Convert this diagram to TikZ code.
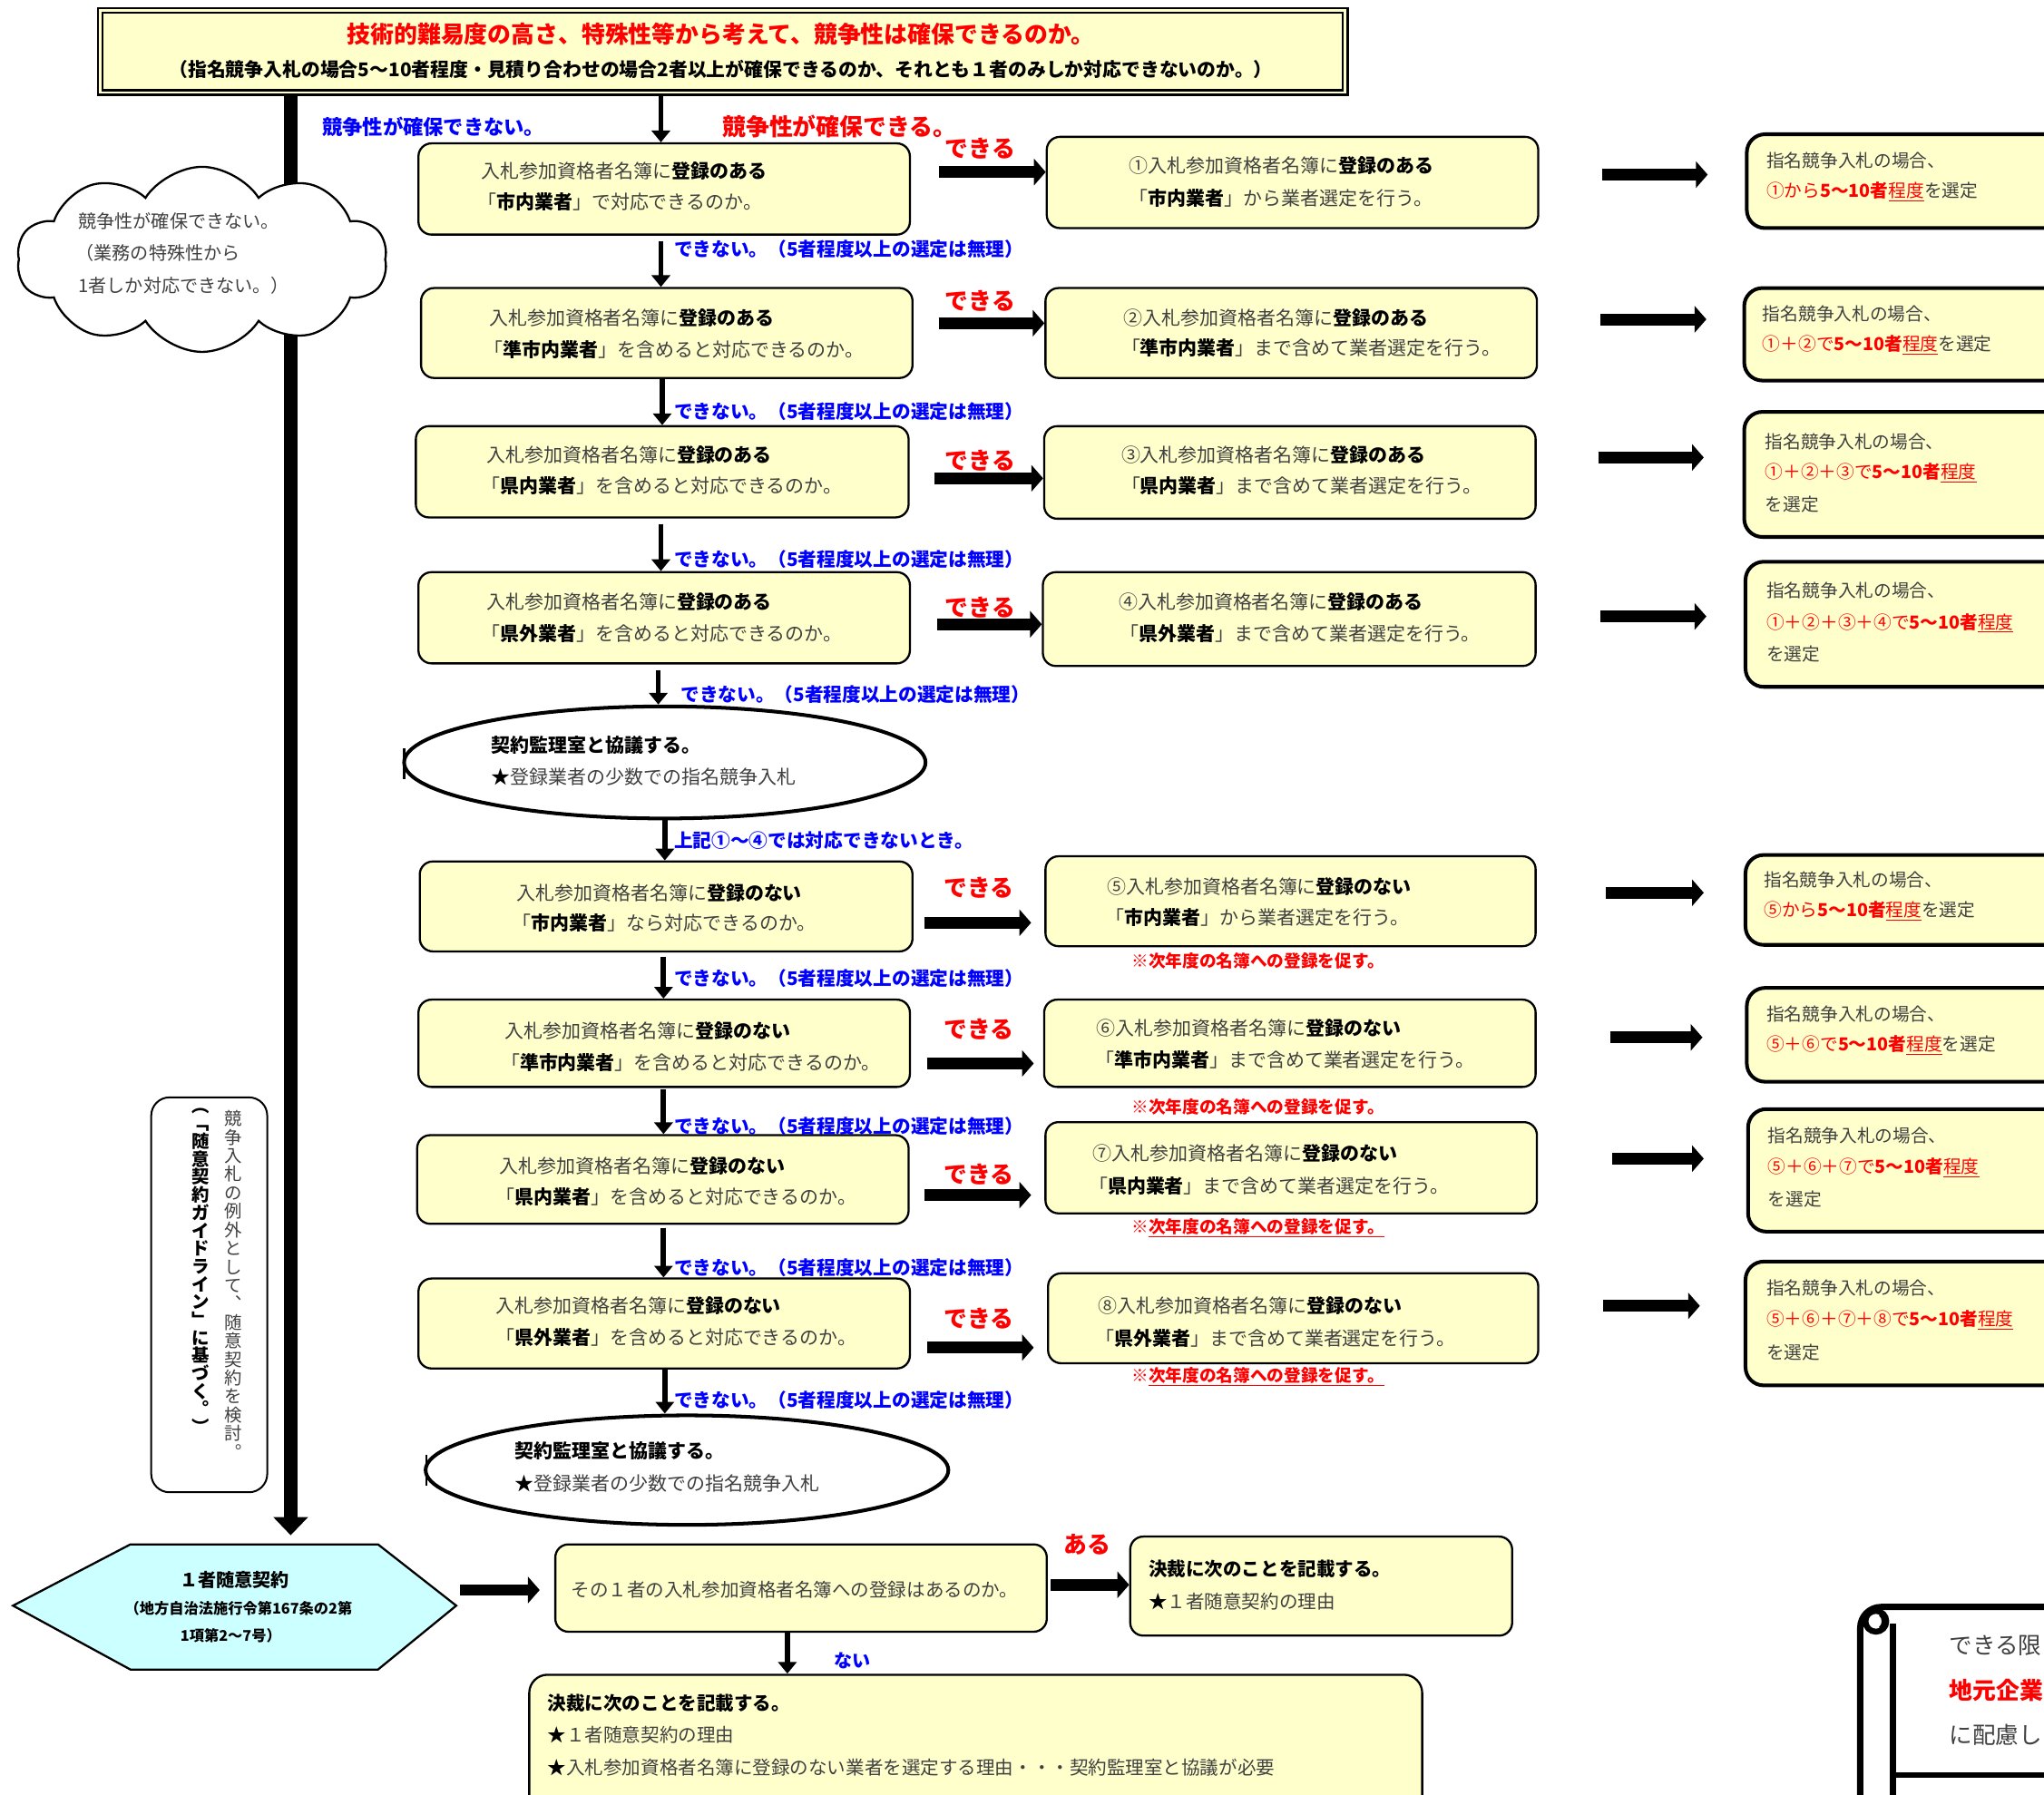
\documentclass[tikz,border=0pt]{standalone}
\usepackage{fontspec}
\setmainfont{Noto Sans CJK JP}
\usetikzlibrary{arrows.meta,shapes.geometric,shapes.symbols,fit}
\definecolor{yfill}{HTML}{FFFFCC}
\definecolor{cfill}{HTML}{CCFFFF}
\definecolor{tgray}{HTML}{404040}
\definecolor{lblue}{HTML}{0000FF}
\definecolor{lred}{HTML}{FF0000}
\newcommand\blk[1]{{\bfseries\color{black}#1}}
\begin{document}
\begin{tikzpicture}[x=1pt,y=-1pt,
 yb/.style={draw=black, fill=yfill, rounded corners=10pt, line width=1.6pt, inner sep=0pt},
 fb/.style={draw=black, fill=yfill, rounded corners=14pt, line width=2.8pt, inner sep=0pt},
 tx/.style={anchor=west, inner sep=0pt, text=tgray, font=\fontsize{14.6}{17}\selectfont},
 ftx/.style={anchor=west, inner sep=0pt, text=tgray, font=\fontsize{13.7}{16}\selectfont},
 nolbl/.style={anchor=west, inner sep=0pt, text=lblue, font=\bfseries\fontsize{14.4}{16}\selectfont},
 oklbl/.style={inner sep=0pt, text=lred, font=\bfseries\fontsize{18}{20}\selectfont},
 note/.style={anchor=west, inner sep=0pt, text=lred, font=\bfseries\fontsize{13}{15}\selectfont},
 thinarr/.style={line width=4pt, -{Triangle[length=9pt,width=14pt]}},
 fatarr/.style={line width=9pt, -{Triangle[length=9pt,width=20pt]}},
 ell/.style={ellipse, draw, line width=2.8pt, fill=white, inner sep=0pt},
]
\fill[white] (0,0) rectangle (1568,1377);
\useasboundingbox (0,0) rectangle (1568,1377);
\clip (0,0) rectangle (1568,1377);

% ---------- top box ----------
\node[draw, double=yfill, double distance=2pt, line width=1.6pt, fill=yfill, inner sep=0pt, fit={(77,8) (1032,71)}] (top) {};
\node[inner sep=0pt, text=lred, font=\bfseries\fontsize{18}{20}\selectfont] (topa) at (553,26) {技術的難易度の高さ、特殊性等から考えて、競争性は確保できるのか。};
\node[inner sep=0pt, font=\bfseries\fontsize{14.5}{16}\selectfont] (topb) at (553,53) {（指名競争入札の場合5～10者程度・見積り合わせの場合2者以上が確保できるのか、それとも１者のみしか対応できないのか。）};

% ---------- main left line ----------
\coordinate (mx) at (223,0);
\coordinate (mainEnd) at (223,1178);
\draw[line width=11pt, -{Triangle[length=14pt,width=26pt]}] (top.south -| mx) -- (mainEnd);

% cloud
\node[cloud, cloud puffs=10, cloud puff arc=115, cloud ignores aspect, draw, fill=white, line width=1.6pt, minimum width=284pt, minimum height=142pt, inner sep=0pt] (cloud) at (155,199) {};
\node[tx, font=\fontsize{14}{16}\selectfont] (cl1) at (60,170) {競争性が確保できない。};
\node[tx, font=\fontsize{14}{16}\selectfont] (cl2) at (58,194) {（業務の特殊性から};
\node[tx, font=\fontsize{14}{16}\selectfont] (cl3) at (60,219) {1者しか対応できない。）};

% labels under top
\node[anchor=west, inner sep=0pt, text=lblue, font=\bfseries\fontsize{15.5}{17}\selectfont] (notok) at (247,97) {競争性が確保できない。};
\node[anchor=west, inner sep=0pt, text=lred, font=\bfseries\fontsize{18}{20}\selectfont] (isok) at (554,97) {競争性が確保できる。};

% ---------- boxes ----------
\node[yb, fit={(321,110) (698,180)}] (L1) {};
\node[yb, fit={(323,221) (700,290)}] (L2) {};
\node[yb, fit={(319,327) (697,397)}] (L3) {};
\node[yb, fit={(321,439) (698,509)}] (L4) {};
\node[yb, fit={(322,661) (700,730)}] (L5) {};
\node[yb, fit={(321,767) (698,834)}] (L6) {};
\node[yb, fit={(320,871) (697,939)}] (L7) {};
\node[yb, fit={(321,981) (698,1050)}] (L8) {};

\node[yb, fit={(803,105) (1180,175)}] (R1) {};
\node[yb, fit={(802,221) (1179,290)}] (R2) {};
\node[yb, fit={(801,327) (1178,398)}] (R3) {};
\node[yb, fit={(800,439) (1178,511)}] (R4) {};
\node[yb, fit={(802,657) (1178,726)}] (R5) {};
\node[yb, fit={(801,767) (1178,834)}] (R6) {};
\node[yb, fit={(802,861) (1179,931)}] (R7) {};
\node[yb, fit={(804,977) (1180,1046)}] (R8) {};

\node[fb, fit={(1340,103) (1600,175)}] (F1) {};
\node[fb, fit={(1338,221) (1600,292)}] (F2) {};
\node[fb, fit={(1338,316) (1600,412)}] (F3) {};
\node[fb, fit={(1339,431) (1600,527)}] (F4) {};
\node[fb, fit={(1339,656) (1600,725)}] (F5) {};
\node[fb, fit={(1340,758) (1600,830)}] (F6) {};
\node[fb, fit={(1341,851) (1600,945)}] (F7) {};
\node[fb, fit={(1339,968) (1600,1063)}] (F8) {};

\node[ell, minimum width=400pt, minimum height=86pt] (E1) at (510,585) {};
\draw[line width=1.5pt] (310,574) -- (310,598);
\node[ell, minimum width=401pt, minimum height=84pt] (E2) at (527,1128) {};
\draw[line width=1.5pt] (327,1116) -- (327,1140);

% ---------- texts in L boxes ----------
\node[tx] (L1a) at (369,131) {入札参加資格者名簿に\blk{登録のある}};
\node[tx] (L1b) at (366,155) {「\blk{市内業者}」で対応できるのか。};
\node[tx] (L2a) at (375,244) {入札参加資格者名簿に\blk{登録のある}};
\node[tx] (L2b) at (371,268) {「\blk{準市内業者}」を含めると対応できるのか。};
\node[tx] (L3a) at (373,349) {入札参加資格者名簿に\blk{登録のある}};
\node[tx] (L3b) at (369,373) {「\blk{県内業者}」を含めると対応できるのか。};
\node[tx] (L4a) at (373,462) {入札参加資格者名簿に\blk{登録のある}};
\node[tx] (L4b) at (369,486) {「\blk{県外業者}」を含めると対応できるのか。};
\node[tx] (L5a) at (396,685) {入札参加資格者名簿に\blk{登録のない}};
\node[tx] (L5b) at (393,708) {「\blk{市内業者}」なら対応できるのか。};
\node[tx] (L6a) at (387,791) {入札参加資格者名簿に\blk{登録のない}};
\node[tx] (L6b) at (384,815) {「\blk{準市内業者}」を含めると対応できるのか。};
\node[tx] (L7a) at (383,895) {入札参加資格者名簿に\blk{登録のない}};
\node[tx] (L7b) at (380,918) {「\blk{県内業者}」を含めると対応できるのか。};
\node[tx] (L8a) at (380,1002) {入札参加資格者名簿に\blk{登録のない}};
\node[tx] (L8b) at (380,1026) {「\blk{県外業者}」を含めると対応できるのか。};

% ---------- texts in R boxes ----------
\node[tx] (R1a) at (866,127) {①入札参加資格者名簿に\blk{登録のある}};
\node[tx] (R1b) at (866,152) {「\blk{市内業者}」から業者選定を行う。};
\node[tx] (R2a) at (862,244) {②入札参加資格者名簿に\blk{登録のある}};
\node[tx] (R2b) at (860,267) {「\blk{準市内業者}」まで含めて業者選定を行う。};
\node[tx] (R3a) at (860,349) {③入札参加資格者名簿に\blk{登録のある}};
\node[tx] (R3b) at (860,373) {「\blk{県内業者}」まで含めて業者選定を行う。};
\node[tx] (R4a) at (858,462) {④入札参加資格者名簿に\blk{登録のある}};
\node[tx] (R4b) at (859,486) {「\blk{県外業者}」まで含めて業者選定を行う。};
\node[tx] (R5a) at (849,680) {⑤入札参加資格者名簿に\blk{登録のない}};
\node[tx] (R5b) at (848,704) {「\blk{市内業者}」から業者選定を行う。};
\node[tx] (R6a) at (841,789) {⑥入札参加資格者名簿に\blk{登録のない}};
\node[tx] (R6b) at (840,813) {「\blk{準市内業者}」まで含めて業者選定を行う。};
\node[tx] (R7a) at (838,885) {⑦入札参加資格者名簿に\blk{登録のない}};
\node[tx] (R7b) at (835,910) {「\blk{県内業者}」まで含めて業者選定を行う。};
\node[tx] (R8a) at (842,1002) {⑧入札参加資格者名簿に\blk{登録のない}};
\node[tx] (R8b) at (840,1027) {「\blk{県外業者}」まで含めて業者選定を行う。};

\node[note] (nt5) at (868,737) {※次年度の名簿への登録を促す。};
\node[note] (nt6) at (868,849) {※次年度の名簿への登録を促す。};
\node[note] (nt7) at (868,942) {※\underline{次年度の名簿への登録を促す。}};
\node[note] (nt8) at (868,1056) {※\underline{次年度の名簿への登録を促す。}};

% ---------- texts in F boxes ----------
\node[ftx] (F1a) at (1355,123) {指名競争入札の場合、};
\node[ftx] (F1b) at (1355,147) {{\color{lred}①から\textbf{5～10者}\underline{程度}}を選定};
\node[ftx] (F2a) at (1352,241) {指名競争入札の場合、};
\node[ftx] (F2b) at (1352,265) {{\color{lred}①＋②で\textbf{5～10者}\underline{程度}}を選定};
\node[ftx] (F3a) at (1354,339) {指名競争入札の場合、};
\node[ftx] (F3b) at (1354,363) {{\color{lred}①＋②＋③で\textbf{5～10者}\underline{程度}}};
\node[ftx] (F3c) at (1354,387) {を選定};
\node[ftx] (F4a) at (1355,453) {指名競争入札の場合、};
\node[ftx] (F4b) at (1355,478) {{\color{lred}①＋②＋③＋④で\textbf{5～10者}\underline{程度}}};
\node[ftx] (F4c) at (1355,502) {を選定};
\node[ftx] (F5a) at (1353,675) {指名競争入札の場合、};
\node[ftx] (F5b) at (1353,699) {{\color{lred}⑤から\textbf{5～10者}\underline{程度}}を選定};
\node[ftx] (F6a) at (1355,778) {指名競争入札の場合、};
\node[ftx] (F6b) at (1355,802) {{\color{lred}⑤＋⑥で\textbf{5～10者}\underline{程度}}を選定};
\node[ftx] (F7a) at (1356,871) {指名競争入札の場合、};
\node[ftx] (F7b) at (1356,896) {{\color{lred}⑤＋⑥＋⑦で\textbf{5～10者}\underline{程度}}};
\node[ftx] (F7c) at (1356,920) {を選定};
\node[ftx] (F8a) at (1355,988) {指名競争入札の場合、};
\node[ftx] (F8b) at (1355,1013) {{\color{lred}⑤＋⑥＋⑦＋⑧で\textbf{5～10者}\underline{程度}}};
\node[ftx] (F8c) at (1355,1038) {を選定};

% ---------- ellipse texts ----------
\node[tx] (E1a) at (377,572) {\blk{契約監理室と協議する。}};
\node[tx] (E1b) at (377,596) {{\color{black}★}登録業者の少数での指名競争入札};
\node[tx] (E2a) at (395,1113) {\blk{契約監理室と協議する。}};
\node[tx] (E2b) at (395,1138) {{\color{black}★}登録業者の少数での指名競争入札};

% ---------- できる labels and fat arrows ----------
\node[oklbl] (ok1) at (752,114) {できる};
\node[oklbl] (ok2) at (752,231) {できる};
\node[oklbl] (ok3) at (752,353) {できる};
\node[oklbl] (ok4) at (752,466) {できる};
\node[oklbl] (ok5) at (751,681) {できる};
\node[oklbl] (ok6) at (751,790) {できる};
\node[oklbl] (ok7) at (751,901) {できる};
\node[oklbl] (ok8) at (751,1012) {できる};

\coordinate (f1s) at (720,132);
\coordinate (f2s) at (720,248);
\coordinate (f3s) at (717,367);
\coordinate (f4s) at (719,479);
\coordinate (f5s) at (709,708);  \coordinate (f5e) at (791,708);
\coordinate (f6s) at (711,816);  \coordinate (f6e) at (793,816);
\coordinate (f7s) at (709,917);  \coordinate (f7e) at (791,917);
\coordinate (f8s) at (711,1034); \coordinate (f8e) at (793,1034);
\draw[fatarr] (f1s) -- (f1s -| R1.west);
\draw[fatarr] (f2s) -- (f2s -| R2.west);
\draw[fatarr] (f3s) -- (f3s -| R3.west);
\draw[fatarr] (f4s) -- (f4s -| R4.west);
\draw[fatarr] (f5s) -- (f5e);
\draw[fatarr] (f6s) -- (f6e);
\draw[fatarr] (f7s) -- (f7e);
\draw[fatarr] (f8s) -- (f8e);

\coordinate (g1s) at (1229,134); \coordinate (g1e) at (1310,134);
\coordinate (g2s) at (1228,245); \coordinate (g2e) at (1309,245);
\coordinate (g3s) at (1226,351); \coordinate (g3e) at (1307,351);
\coordinate (g4s) at (1228,473); \coordinate (g4e) at (1309,473);
\coordinate (g5s) at (1232,685); \coordinate (g5e) at (1307,685);
\coordinate (g6s) at (1235,796); \coordinate (g6e) at (1306,796);
\coordinate (g7s) at (1237,889); \coordinate (g7e) at (1307,889);
\coordinate (g8s) at (1230,1002); \coordinate (g8e) at (1304,1002);
\foreach \i in {1,...,8} {\draw[fatarr] (g\i s) -- (g\i e);}

% ---------- vertical thin arrows ----------
\coordinate (c0) at (507,0);
\draw[thinarr] (top.south -| c0) -- (L1.north -| c0);
\coordinate (d1) at (507,185);  \draw[thinarr] (d1) -- (d1 |- L2.north);
\coordinate (d2) at (508,291);  \draw[thinarr] (d2) -- (d2 |- L3.north);
\coordinate (d3) at (507,402);  \draw[thinarr] (d3) -- (d3 |- L4.north);
\coordinate (d4) at (505,514);  \draw[thinarr] (d4) -- (d4 |- E1.north);
\coordinate (d5) at (510,629);  \draw[thinarr] (d5) -- (d5 |- L5.north);
\coordinate (d6) at (509,734);  \draw[thinarr] (d6) -- (d6 |- L6.north);
\coordinate (d7) at (509,836);  \draw[thinarr] (d7) -- (d7 |- L7.north);
\coordinate (d8) at (509,942);  \draw[thinarr] (d8) -- (d8 |- L8.north);
\coordinate (d9) at (510,1051); \draw[thinarr] (d9) -- (d9 |- E2.north);

\node[nolbl] (n1) at (517,191) {できない。（5者程度以上の選定は無理）};
\node[nolbl] (n2) at (517,316) {できない。（5者程度以上の選定は無理）};
\node[nolbl] (n3) at (517,429) {できない。（5者程度以上の選定は無理）};
\node[nolbl] (n4) at (522,533) {できない。（5者程度以上の選定は無理）};
\node[nolbl] (n5) at (517,645) {上記①～④では対応できないとき。};
\node[nolbl] (n6) at (517,751) {できない。（5者程度以上の選定は無理）};
\node[nolbl] (n7) at (517,864) {できない。（5者程度以上の選定は無理）};
\node[nolbl] (n8) at (517,973) {できない。（5者程度以上の選定は無理）};
\node[nolbl] (n9) at (517,1074) {できない。（5者程度以上の選定は無理）};

% ---------- vertical note box ----------
\node[draw, fill=white, rounded corners=14pt, line width=1.4pt, inner sep=0pt, fit={(116,842) (205,1145)}] (V) {};
\node[anchor=north, inner sep=0pt, align=center, text=tgray, font=\fontsize{13.5}{14.2}\selectfont] (vtR) at (179,852)
 {競\\争\\入\\札\\の\\例\\外\\と\\し\\て\\︑\\随\\意\\契\\約\\を\\検\\討\\︒};
\node[anchor=north, inner sep=0pt, align=center, text=black, font=\bfseries\fontsize{13.5}{13.7}\selectfont] (vtL) at (154,850)
 {︵\\﹁\\随\\意\\契\\約\\ガ\\イ\\ド\\ラ\\イ\\ン\\﹂\\に\\基\\づ\\く\\︒\\︶};

% ---------- bottom part ----------
\draw[fill=cfill, line width=1.6pt] (10,1232) -- (100,1185) -- (290,1185) -- (350,1232) -- (290,1281) -- (100,1281) -- cycle;
\node[inner sep=0pt, font=\bfseries\fontsize{14}{16}\selectfont] (hx1) at (180,1212) {１者随意契約};
\node[inner sep=0pt, font=\bfseries\fontsize{11.3}{13}\selectfont] (hx2) at (183,1234) {（地方自治法施行令第167条の2第};
\node[inner sep=0pt, font=\bfseries\fontsize{11.3}{13}\selectfont] (hx3) at (177,1255) {1項第2～7号）};

\node[yb, fit={(426,1185) (803,1252)}] (Q) {};
\node[tx, font=\fontsize{14.3}{16}\selectfont] (Qa) at (438,1220) {その１者の入札参加資格者名簿への登録はあるのか。};
\node[yb, fit={(867,1179) (1160,1255)}] (Y) {};
\node[tx, font=\fontsize{14.3}{16}\selectfont] (Ya) at (881,1204) {\blk{決裁に次のことを記載する。}};
\node[tx, font=\fontsize{14.3}{16}\selectfont] (Yb) at (881,1229) {{\color{black}★}１者随意契約の理由};
\node[yb, rounded corners=14pt, fit={(406,1285) (1091,1400)}] (N) {};
\node[tx, font=\fontsize{14.3}{16}\selectfont] (Na) at (420,1307) {\blk{決裁に次のことを記載する。}};
\node[tx, font=\fontsize{14.3}{16}\selectfont] (Nb) at (420,1331) {{\color{black}★}１者随意契約の理由};
\node[tx, font=\fontsize{14.3}{16}\selectfont] (Nc) at (420,1356) {{\color{black}★}入札参加資格者名簿に登録のない業者を選定する理由・・・契約監理室と協議が必要};

\coordinate (h1s) at (353,1220); \coordinate (h1e) at (414,1220);
\draw[fatarr] (h1s) -- (h1e);
\node[oklbl] (aru) at (834,1185) {ある};
\coordinate (qy) at (806,1216);
\draw[fatarr] (qy) -- (qy -| Y.west);
\coordinate (dq) at (604,1253);
\draw[thinarr] (dq) -- (dq |- N.north);
\node[inner sep=0pt, text=lblue, font=\bfseries\fontsize{14}{16}\selectfont] (nai) at (654,1274) {ない};

% ---------- scroll ----------
\draw[line width=4.8pt, rounded corners=16pt] (1427,1400) -- (1427,1233) -- (1600,1233);
\draw[line width=4.8pt] (1452,1246) -- (1452,1400);
\draw[line width=4.8pt] (1452,1362) -- (1600,1362);
\draw[line width=4.5pt, fill=white] (1439,1244) circle (8pt);
\draw[line width=1.6pt] (1442,1239) to[bend left=50] (1442,1249);
\node[anchor=west, inner sep=0pt, text=tgray, font=\fontsize{17.8}{20}\selectfont] (s1) at (1495,1263) {できる限};
\node[anchor=west, inner sep=0pt, text=lred, font=\bfseries\fontsize{18}{21}\selectfont] (s2) at (1495,1297) {地元企業};
\node[anchor=west, inner sep=0pt, text=tgray, font=\fontsize{17.8}{20}\selectfont] (s3) at (1495,1331) {に配慮し};
\end{tikzpicture}
\end{document}
